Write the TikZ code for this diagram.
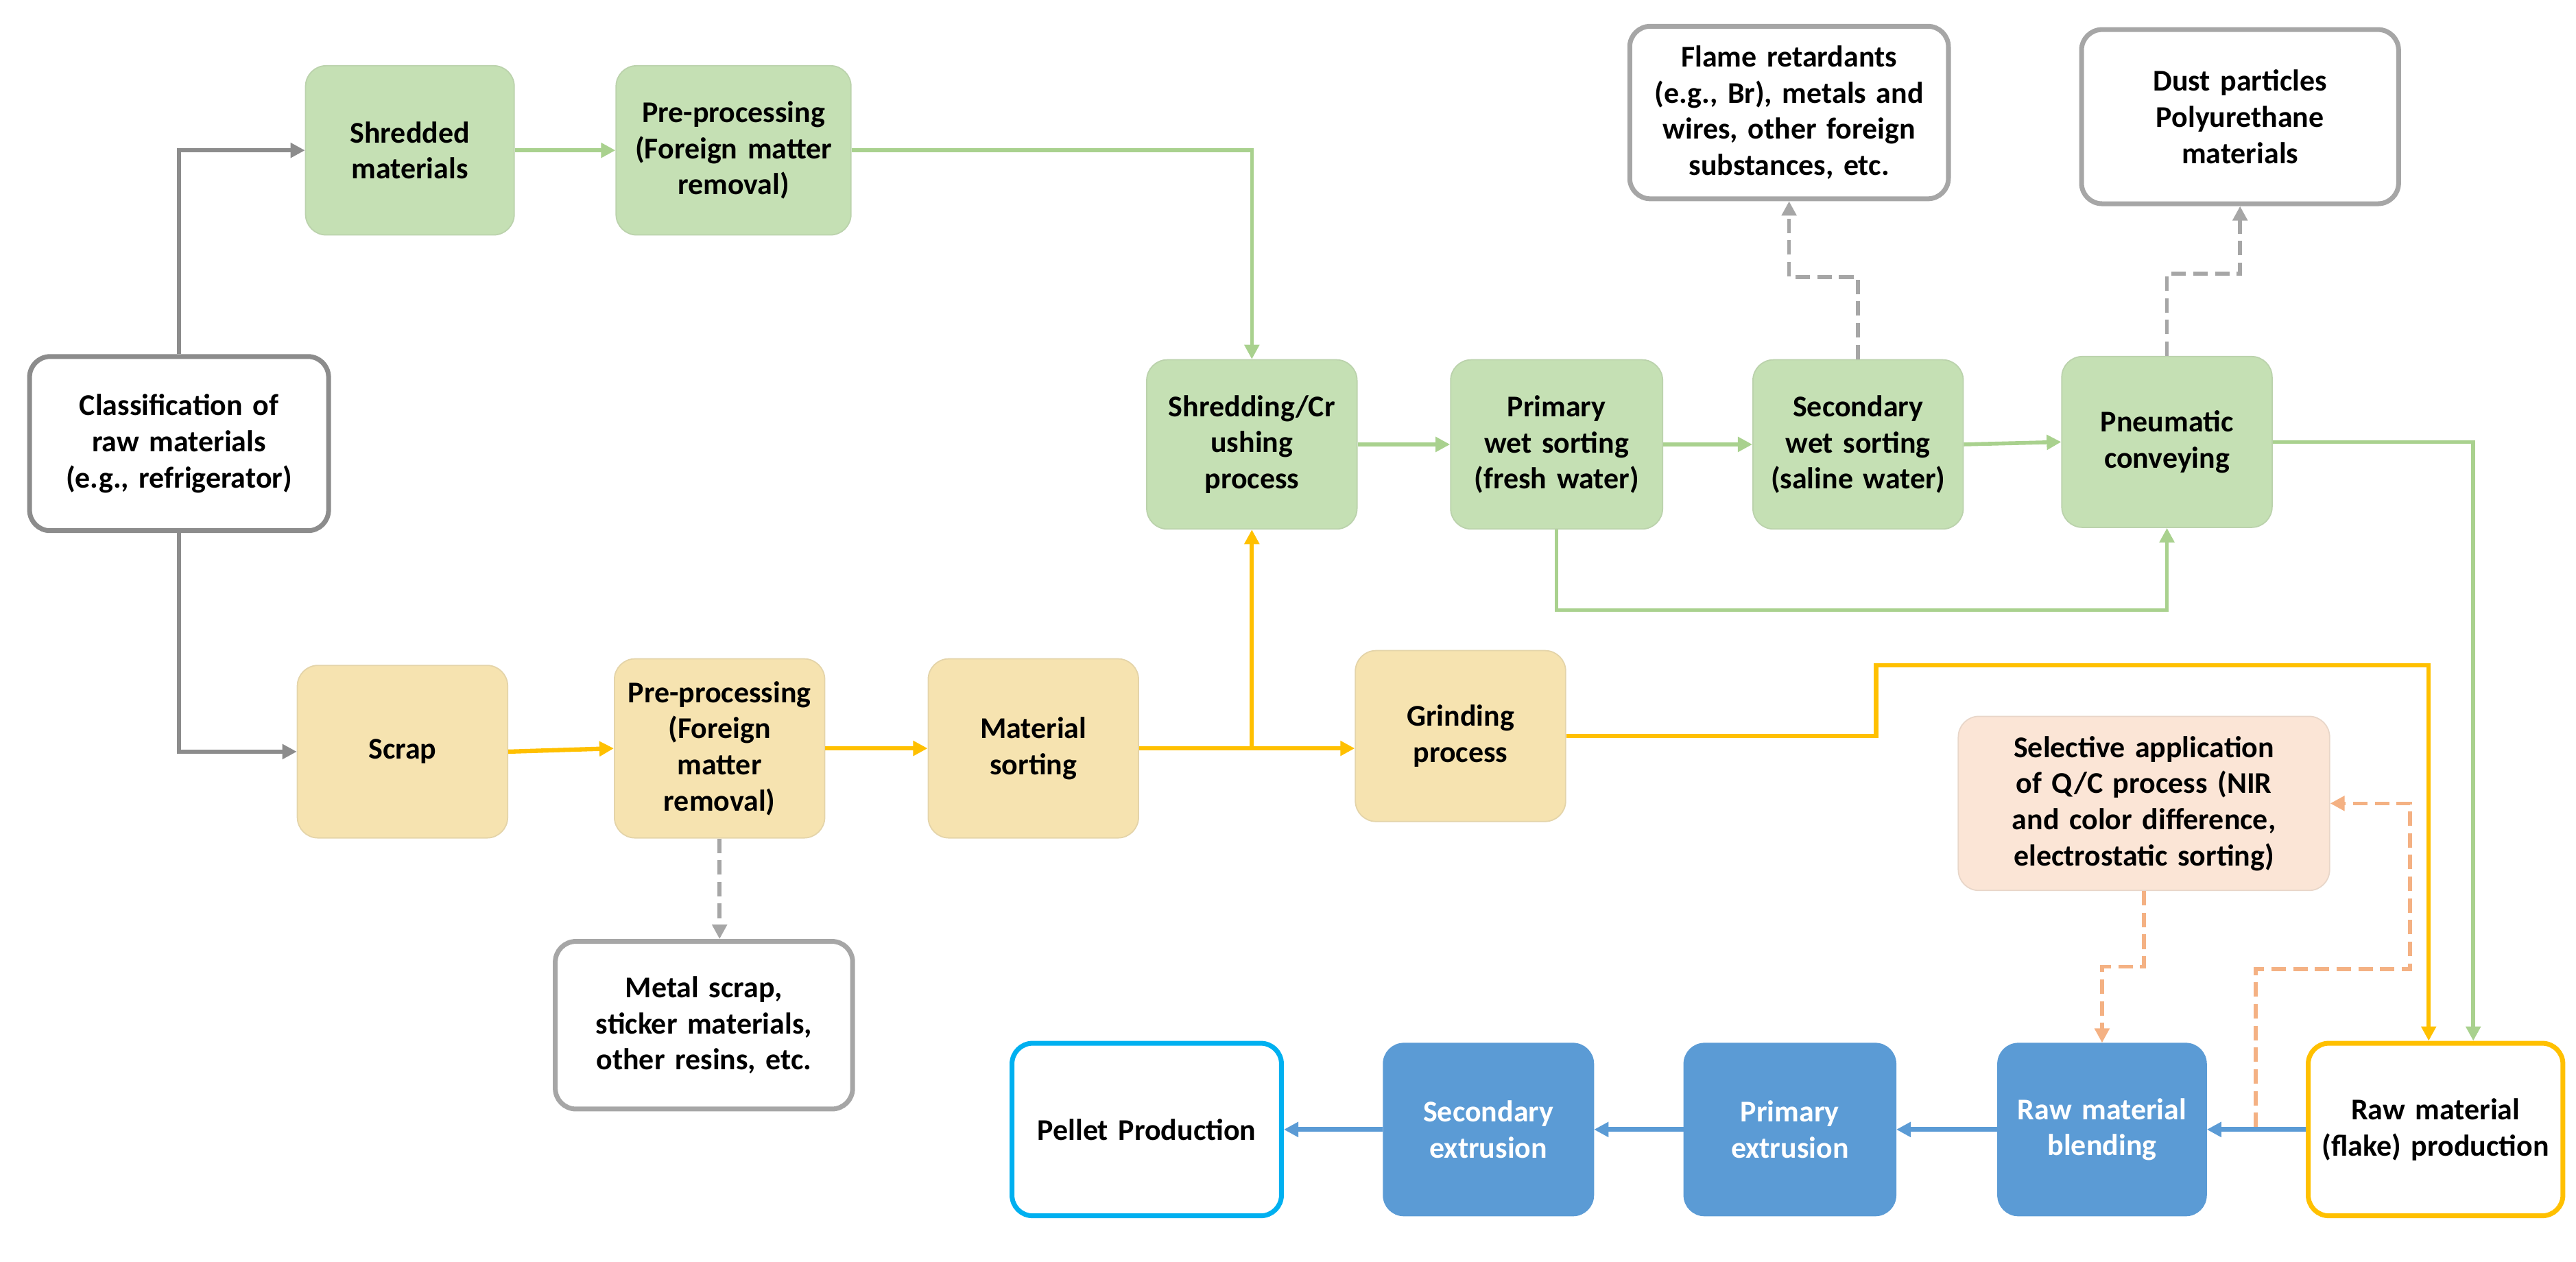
\documentclass[tikz,border=0pt]{standalone}
\usepackage{fontspec}
\setmainfont{Carlito}
\usetikzlibrary{arrows.meta}
\definecolor{gfill}{HTML}{C5E0B4}\definecolor{gline}{HTML}{A9D18E}
\definecolor{yfill}{HTML}{F6E3B0}\definecolor{yline}{HTML}{FFC000}
\definecolor{bfill}{HTML}{5B9BD5}\definecolor{pfill}{HTML}{FBE5D6}
\definecolor{pline}{HTML}{F4B183}\definecolor{gray1}{HTML}{8C8C8C}
\definecolor{gray2}{HTML}{A6A6A6}\definecolor{cyanb}{HTML}{00B0F0}
\newcommand\bx[7]{\node[box,#6,minimum width={(#4-#3)*0.02395cm},minimum height={(#5-#2)*0.02395cm},text width={(#4-#3-10)*0.02395cm}] (#1) at ({(#3+#4)/2},{(#2+#5)/2}) {#7};}
\begin{document}
\begin{tikzpicture}[x=0.02395cm,y=-0.02395cm,
 box/.style={rounded corners=0.3cm,align=center,inner sep=0pt,font=\bfseries\fontsize{12.5}{15}\selectfont},
 gb/.style={fill=gfill,draw=gfill!85!gray,line width=0.5pt},
 yb/.style={fill=yfill,draw=yfill!85!gray,line width=0.5pt},
 bb/.style={fill=bfill,draw=bfill,text=white},
 wb/.style={fill=white,draw=gray2,line width=2pt},
 tip/.style={-{Triangle[length=6pt,width=6pt]}},
 ga/.style={tip,draw=gray1,line width=1.6pt},
 gr/.style={tip,draw=gline,line width=1.6pt},
 ya/.style={tip,draw=yline,line width=1.8pt},
 ba/.style={tip,draw=bfill,line width=2pt},
 gd/.style={tip,draw=gray2,line width=1.6pt,dash pattern=on 6pt off 3pt},
 pd/.style={tip,draw=pline,line width=1.6pt,dash pattern=on 6pt off 3pt}]
\useasboundingbox (0,0) rectangle (1568,768);
\bx{cls}{217}{18}{200}{323}{wb,draw=gray1}{Classification of raw materials\\(e.g., refrigerator)}
\bx{shr}{40}{186}{313}{143}{gb}{Shredded materials}
\bx{pp1}{40}{375}{518}{143}{gb}{Pre-processing (Foreign matter removal)}
\bx{sc}{219}{698}{826}{322}{gb}{Shredding/Cr\\ushing\\process}
\bx{pw}{219}{883}{1012}{322}{gb}{Primary wet sorting\\(fresh water)}
\bx{sw}{219}{1067}{1195}{322}{gb}{Secondary wet sorting\\(saline water)}
\bx{pn}{217}{1255}{1383}{321}{gb}{Pneumatic conveying}
\bx{fr}{16}{992}{1186}{121}{wb}{Flame retardants (e.g., Br), metals and wires, other foreign substances, etc.}
\bx{du}{18}{1267}{1460}{124}{wb}{Dust particles\\Polyurethane\\materials\\[8pt]}
\bx{scr}{405}{181}{309}{510}{yb}{Scrap}
\bx{pp2}{401}{374}{502}{510}{yb}{Pre-processing (Foreign matter removal)}
\bx{ms}{401}{565}{693}{510}{yb}{Material sorting}
\bx{gri}{396}{825}{953}{500}{yb}{Grinding process}
\bx{mt}{573}{338}{519}{675}{wb}{Metal scrap, sticker materials, other resins, etc.}
\bx{sel}{436}{1192}{1418}{542}{fill=pfill,draw=pfill!85!gray,line width=0.5pt}{Selective application of Q/C process (NIR and color difference, electrostatic sorting)}
\bx{pel}{635}{616}{780}{740}{fill=white,draw=cyanb,line width=2pt}{Pellet Production\\[6pt]}
\bx{se}{635}{842}{970}{740}{bb}{Secondary extrusion}
\bx{pe}{635}{1025}{1154}{740}{bb}{Primary extrusion}
\bx{bl}{635}{1216}{1343}{740}{bb}{Raw material blending}
\bx{fl}{635}{1405}{1560}{740}{fill=white,draw=yline,line width=2pt}{Raw material (flake) production}
% gray
\draw[ga] (cls.north) |- (shr.west);
\draw[ga] (cls.south) |- (scr.west);
% green
\draw[gr] (shr.east) -- (pp1.west);
\draw[gr] (pp1.east) -| (sc.north);
\draw[gr] (sc.east) -- (pw.west);
\draw[gr] (pw.east) -- (sw.west);
\draw[gr] (sw.east) -- (pn.west);
\draw[gr] (pw.south) -- ++(0,49) -| (pn.south);
\draw[gr] (pn.east) -| ([xshift=0.55cm]fl.north);
% yellow
\draw[ya] (scr.east) -- (pp2.west);
\draw[ya] (pp2.east) -- (ms.west);
\draw[ya] (ms.east) -- (gri.west |- ms.east);
\draw[ya] (ms.east -| sc.south) -- (sc.south);
\draw[ya] (gri.east) -| (1142,405) -| ([xshift=-0.1cm]fl.north);
% dashed
\draw[gd] (pp2.south) -- (pp2.south |- mt.north);
\draw[gd] (sw.north) -- ++(0,-50) -| (fr.south);
\draw[gd] (pn.north) -- ++(0,-50) -| (du.south);
\draw[pd] (sel.south) -- ++(0,46) -| (bl.north);
\coordinate (lp) at (1373,686);
\draw[pd] (lp) |- (1467,590) |- (sel.east);
% blue
\draw[ba] (fl.west) -- (bl.east);
\draw[ba] (bl.west) -- (pe.east);
\draw[ba] (pe.west) -- (se.east);
\draw[ba] (se.west) -- (pel.east);
\end{tikzpicture}
\end{document}
